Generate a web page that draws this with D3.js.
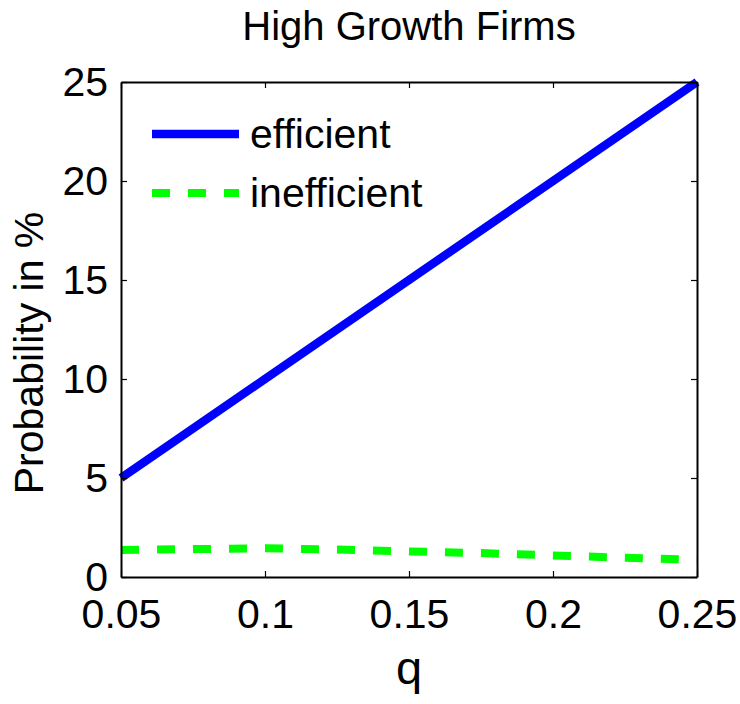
<!DOCTYPE html>
<html>
<head>
<meta charset="utf-8">
<script src="https://cdn.jsdelivr.net/npm/d3@7"></script>
<style>
    body { margin: 0; background: #fff; }
    svg { font-family: "Liberation Sans", Arial, sans-serif; }
</style>
</head>
<body>
<div id="chart"></div>
<script>
// data
let qValues = [0.05, 0.075, 0.1, 0.125, 0.15, 0.175, 0.2, 0.225, 0.25];
let efficient = [5, 7.5, 10, 12.5, 15, 17.5, 20, 22.5, 25];
let inefficient = [1.36, 1.41, 1.45, 1.39, 1.29, 1.21, 1.09, 0.97, 0.88];
let xTicks = [0.05, 0.1, 0.15, 0.2, 0.25];
let yTicks = [0, 5, 10, 15, 20, 25];
let seriesNames = ["efficient", "inefficient"];

function drawChart(){
    let margin = {"top": 82, "bottom": 127, "left": 121, "right": 43};
    let fullWidth = 740, fullHeight = 704;
    let width = fullWidth - margin.left - margin.right;
    let height = fullHeight - margin.top - margin.bottom;

    let svg = d3.select("#chart").append("svg")
        .attr("width", fullWidth)
        .attr("height", fullHeight);

    let g = svg.append("g")
        .attr("transform", "translate(" + margin.left + ", " + margin.top + ")");

    let x = d3.scaleLinear().domain([0.05, 0.25]).range([0, width]);
    let y = d3.scaleLinear().domain([0, 25]).range([height, 0]);

    // lines
    let line = d3.line().x((d, i) => x(qValues[i])).y(d => y(d));

    g.append("path").datum(efficient)
        .attr("d", line)
        .attr("fill", "none")
        .attr("stroke", "#0000ff")
        .attr("stroke-width", 8.5);

    g.append("path").datum(inefficient)
        .attr("d", line)
        .attr("fill", "none")
        .attr("stroke", "#00ff00")
        .attr("stroke-width", 8)
        .attr("stroke-dasharray", "18,18");

    // box + ticks
    let fmt = d => d === 0 ? "0" : String(d);
    let xb = d3.axisBottom(x).tickValues(xTicks).tickSizeInner(-6).tickSizeOuter(0).tickPadding(22).tickFormat(fmt);
    let xt = d3.axisTop(x).tickValues(xTicks).tickSizeInner(-6).tickSizeOuter(0).tickFormat("");
    let yl = d3.axisLeft(y).tickValues(yTicks).tickSizeInner(-6).tickSizeOuter(0).tickPadding(13).tickFormat(fmt);
    let yr = d3.axisRight(y).tickValues(yTicks).tickSizeInner(-6).tickSizeOuter(0).tickFormat("");

    let axes = [
        g.append("g").attr("transform", "translate(0," + height + ")").call(xb),
        g.append("g").call(xt),
        g.append("g").call(yl),
        g.append("g").attr("transform", "translate(" + width + ",0)").call(yr)
    ];
    axes.forEach(a => {
        a.select(".domain").attr("stroke", "#000").attr("stroke-width", 2);
        a.selectAll(".tick line").attr("stroke", "#000").attr("stroke-width", 1.2);
        a.selectAll(".tick text").attr("fill", "#000").style("font-size", "41px")
            .style("font-family", "'Liberation Sans', Arial, sans-serif");
    });

    // title and labels
    svg.append("text")
        .attr("x", margin.left + width / 2).attr("y", 40)
        .attr("text-anchor", "middle")
        .style("font-size", "40px")
        .text("High Growth Firms");

    svg.append("text")
        .attr("x", margin.left + width / 2).attr("y", 684)
        .attr("text-anchor", "middle")
        .style("font-size", "47px")
        .text("q");

    svg.append("text")
        .attr("transform", "translate(43, 353) rotate(-90)")
        .attr("text-anchor", "middle")
        .style("font-size", "41px")
        .text("Probability in %");

    // legend
    let legend = g.selectAll(".legend")
        .data(seriesNames)
        .enter().append("g")
        .attr("class", "legend")
        .attr("transform", (d, i) => "translate(31, " + (52 + i * 59) + ")");

    legend.append("line")
        .attr("x1", 0).attr("x2", 87)
        .attr("stroke", (d, i) => i === 0 ? "#0000ff" : "#00ff00")
        .attr("stroke-width", (d, i) => i === 0 ? 8.5 : 8)
        .attr("stroke-dasharray", (d, i) => i === 0 ? null : "18,18");

    legend.append("text")
        .attr("x", 98).attr("y", 14)
        .style("font-size", "41px")
        .text(d => d);
}

drawChart();
</script>
</body>
</html>
